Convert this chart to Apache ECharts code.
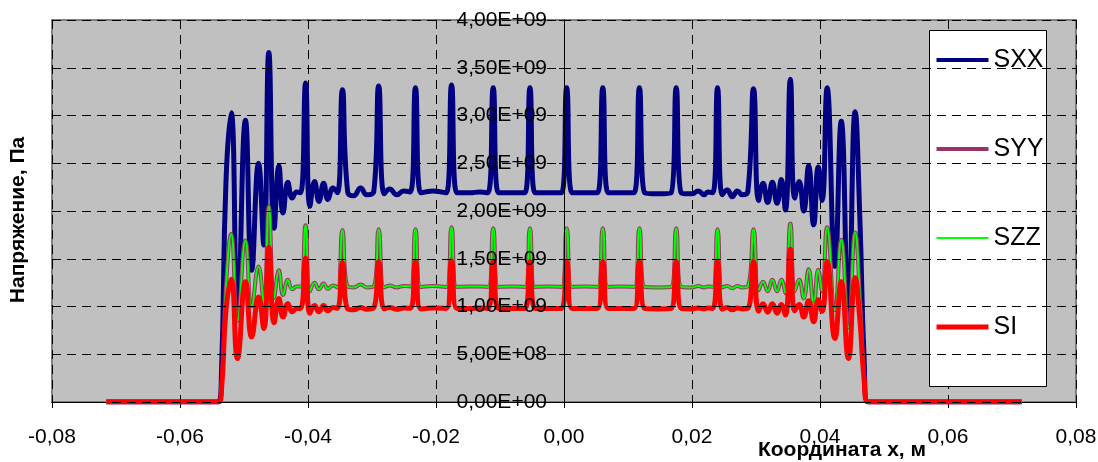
<!DOCTYPE html>
<html>
<head>
<meta charset="utf-8">
<script src="https://cdn.jsdelivr.net/npm/echarts@6/dist/echarts.min.js"></script>
<style>
  html, body { margin: 0; padding: 0; background: #ffffff; }
  #chart { width: 1098px; height: 462px; }
</style>
</head>
<body>
<div id="chart"></div>
<script>
// Coordinates, m
var xs = [-0.0715, -0.0540, -0.05352, -0.05282, -0.05200, -0.05102, -0.04977, -0.04880, -0.04773, -0.04690,
  -0.04612, -0.04529, -0.04455, -0.04390, -0.04315, -0.04246, -0.04178, -0.04116, -0.04038, -0.03970,
  -0.03897, -0.03829, -0.03756, -0.03689, -0.03610, -0.03540, -0.03463, -0.03380, -0.03286, -0.03177,
  -0.03083, -0.02973, -0.02895, -0.02809, -0.02723, -0.02613, -0.02504, -0.02402, -0.02321, -0.02238,
  -0.02050, -0.01839, -0.01757, -0.01674, -0.01471, -0.01315, -0.01189, -0.01106, -0.01025, -0.00814,
  -0.00610, -0.00532, -0.00454, -0.00250, -0.00039, 0.00042, 0.00125, 0.00329, 0.00524, 0.00606,
  0.00689, 0.00892, 0.01095, 0.01178, 0.01260, 0.01471, 0.01674, 0.01753, 0.01831, 0.02003,
  0.02097, 0.02191, 0.02246, 0.02324, 0.02399, 0.02473, 0.02551, 0.02629, 0.02707, 0.02786,
  0.02872, 0.02962, 0.03041, 0.03110, 0.03182, 0.03255, 0.03329, 0.03396, 0.03459, 0.03537,
  0.03604, 0.03675, 0.03745, 0.03823, 0.03901, 0.03972, 0.04033, 0.04111, 0.04233, 0.04332,
  0.04444, 0.04549, 0.04624, 0.04687, 0.04750, 0.0715];

// Stresses, in units of 1e9 Pa
var SCALE = 1e9;
var sxx = [0, 0, 0.3, 2.3, 3.03, 0.9, 2.95, 1.38, 2.50, 1.645,
  3.66, 1.82, 2.47, 1.98, 2.30, 2.135, 2.20, 2.19, 3.34, 2.05,
  2.31, 2.10, 2.29, 2.12, 2.24, 2.19, 3.27, 2.20, 2.16, 2.24,
  2.17, 2.20, 3.31, 2.18, 2.23, 2.17, 2.21, 2.20, 3.29, 2.19,
  2.21, 2.19, 3.32, 2.19, 2.19, 2.20, 2.19, 3.29, 2.19, 2.19,
  2.19, 3.29, 2.19, 2.19, 2.19, 3.29, 2.19, 2.19, 2.19, 3.29,
  2.19, 2.19, 2.19, 3.29, 2.19, 2.18, 2.19, 3.29, 2.19, 2.18,
  2.21, 2.17, 2.20, 2.19, 3.29, 2.17, 2.22, 2.15, 2.21, 2.17,
  2.20, 3.28, 2.11, 2.29, 2.09, 2.30, 2.08, 2.33, 2.01, 3.38,
  2.135, 2.31, 2.00, 2.47, 1.855, 2.46, 2.11, 3.29, 1.42, 2.94,
  0.89, 3.04, 1.9, 0.5, 0, 0];
var syy = [0, 0, 0.15, 1.2, 1.76, 0.85, 1.69, 1.0, 1.42, 1.03,
  2.05, 1.09, 1.38, 1.12, 1.28, 1.18, 1.21, 1.21, 1.85, 1.16,
  1.25, 1.18, 1.24, 1.185, 1.22, 1.20, 1.80, 1.21, 1.20, 1.23,
  1.20, 1.21, 1.81, 1.20, 1.22, 1.20, 1.215, 1.21, 1.81, 1.205,
  1.215, 1.205, 1.83, 1.205, 1.21, 1.21, 1.205, 1.82, 1.205, 1.21,
  1.205, 1.82, 1.205, 1.21, 1.205, 1.82, 1.205, 1.21, 1.205, 1.82,
  1.205, 1.21, 1.205, 1.82, 1.205, 1.20, 1.205, 1.82, 1.205, 1.20,
  1.215, 1.20, 1.21, 1.205, 1.81, 1.20, 1.215, 1.19, 1.215, 1.20,
  1.21, 1.81, 1.17, 1.26, 1.16, 1.28, 1.16, 1.28, 1.14, 1.87,
  1.16, 1.28, 1.085, 1.39, 1.015, 1.385, 1.16, 1.83, 0.96, 1.70,
  0.78, 1.775, 1.1, 0.3, 0, 0];
var szz = [0, 0, 0.15, 1.2, 1.76, 0.85, 1.69, 1.0, 1.42, 1.03,
  2.05, 1.09, 1.38, 1.12, 1.28, 1.18, 1.21, 1.21, 1.85, 1.16,
  1.25, 1.18, 1.24, 1.185, 1.22, 1.20, 1.80, 1.21, 1.20, 1.23,
  1.20, 1.21, 1.81, 1.20, 1.22, 1.20, 1.215, 1.21, 1.81, 1.205,
  1.215, 1.205, 1.83, 1.205, 1.21, 1.21, 1.205, 1.82, 1.205, 1.21,
  1.205, 1.82, 1.205, 1.21, 1.205, 1.82, 1.205, 1.21, 1.205, 1.82,
  1.205, 1.21, 1.205, 1.82, 1.205, 1.20, 1.205, 1.82, 1.205, 1.20,
  1.215, 1.20, 1.21, 1.205, 1.81, 1.20, 1.215, 1.19, 1.215, 1.20,
  1.21, 1.81, 1.17, 1.26, 1.16, 1.28, 1.16, 1.28, 1.14, 1.87,
  1.16, 1.28, 1.085, 1.39, 1.015, 1.385, 1.16, 1.83, 0.96, 1.70,
  0.78, 1.775, 1.1, 0.3, 0, 0];
var si = [0, 0, 0.12, 0.95, 1.285, 0.455, 1.26, 0.68, 1.10, 0.77,
  1.62, 0.83, 1.085, 0.89, 1.03, 0.945, 0.98, 0.98, 1.505, 0.93,
  1.01, 0.945, 1.01, 0.955, 0.99, 0.98, 1.46, 0.975, 0.965, 0.99,
  0.97, 0.985, 1.47, 0.975, 0.99, 0.97, 0.985, 0.98, 1.47, 0.975,
  0.985, 0.98, 1.48, 0.98, 0.98, 0.985, 0.98, 1.47, 0.98, 0.98,
  0.98, 1.47, 0.98, 0.98, 0.98, 1.47, 0.98, 0.98, 0.98, 1.47,
  0.98, 0.98, 0.98, 1.47, 0.98, 0.975, 0.98, 1.47, 0.98, 0.975,
  0.985, 0.975, 0.985, 0.98, 1.47, 0.97, 0.99, 0.965, 0.985, 0.975,
  0.98, 1.47, 0.95, 1.03, 0.94, 1.03, 0.93, 1.02, 0.91, 1.60,
  0.955, 1.02, 0.89, 1.06, 0.84, 1.07, 0.95, 1.47, 0.665, 1.26,
  0.455, 1.30, 0.85, 0.25, 0, 0];

var seriesNames = ['SXX', 'SYY', 'SZZ', 'SI'];
var seriesColors = ['#000080', '#993366', '#00FF00', '#FF0000'];
var xTitle = 'Координата х, м';
var yTitle = 'Напряжение, Па';

var FONT = '"Liberation Sans", Arial, sans-serif';

function pairs(arr) {
  return xs.map(function (x, i) { return [x, arr[i] * SCALE]; });
}

function fmtX(v) {
  if (Math.abs(v) < 1e-9) return '0,00';
  return v.toFixed(2).replace('.', ',');
}
function fmtY(v) {
  if (v === 0) return '0,00E+00';
  var e = Math.floor(Math.log10(v) + 1e-9);
  var m = v / Math.pow(10, e);
  return m.toFixed(2).replace('.', ',') + 'E+' + (e < 10 ? '0' : '') + e;
}

var chart = echarts.init(document.getElementById('chart'), null, { renderer: 'canvas' });

var dashed = { color: '#000000', width: 1, type: [9, 6] };
var widths = [5, 4, 2, 5];
var legendWidths = [4, 4, 2, 5];

chart.setOption({
  animation: false,
  backgroundColor: '#ffffff',
  textStyle: { fontFamily: FONT },
  grid: {
    left: 52, right: 22, top: 20, bottom: 60,
    show: true, backgroundColor: '#C0C0C0', borderColor: '#808080', borderWidth: 2,
    containLabel: false, outerBoundsMode: 'none'
  },
  xAxis: {
    type: 'value', min: -0.08, max: 0.08, interval: 0.02,
    axisLine: { show: true, onZero: false, lineStyle: { color: '#000000', width: 1 } },
    axisTick: { show: true, inside: false, length: 6, lineStyle: { color: '#000000' } },
    axisLabel: { formatter: fmtX, color: '#000000', fontSize: 21, fontFamily: FONT, margin: 25 },
    splitLine: { show: true, lineStyle: dashed }
  },
  yAxis: {
    type: 'value', min: 0, max: 4e9, interval: 5e8, z: 10,
    position: 'left', offset: -512,
    axisLine: { show: true, onZero: false, lineStyle: { color: '#000000', width: 1 } },
    axisTick: { show: true, inside: false, length: 5, lineStyle: { color: '#000000' } },
    axisLabel: { formatter: fmtY, color: '#000000', fontSize: 21, fontFamily: FONT, margin: 17 },
    splitLine: { show: true, lineStyle: dashed }
  },
  legend: {
    orient: 'vertical', left: 934, top: 47, padding: 0, z: 10,
    itemWidth: 52, itemHeight: 26, itemGap: 63,
    itemStyle: { opacity: 0 },
    textStyle: { fontSize: 25, fontFamily: FONT, color: '#000000', lineHeight: 26 },
    data: seriesNames.map(function (n, i) {
      return { name: n, lineStyle: { width: legendWidths[i], color: seriesColors[i] }, itemStyle: { opacity: 0 } };
    })
  },
  graphic: [
    { type: 'rect', z: 3, shape: { x: 929.5, y: 30.5, width: 117, height: 356 },
      style: { fill: '#ffffff', stroke: '#000000', lineWidth: 1 } },
    { type: 'text', z: 3, x: 18, y: 220, rotation: Math.PI / 2,
      style: { text: yTitle, fill: '#000000', font: 'bold 21px ' + FONT, align: 'center', verticalAlign: 'middle' } },
    { type: 'text', z: 3, x: 842, y: 450,
      style: { text: xTitle, fill: '#000000', font: 'bold 21px ' + FONT, align: 'center', verticalAlign: 'middle' } }
  ],
  series: [sxx, syy, szz, si].map(function (arr, i) {
    return {
      name: seriesNames[i], type: 'line', data: pairs(arr), smooth: 0.5,
      symbol: 'none', showSymbol: false, color: seriesColors[i],
      lineStyle: { color: seriesColors[i], width: widths[i] }
    };
  })
});
</script>
</body>
</html>
